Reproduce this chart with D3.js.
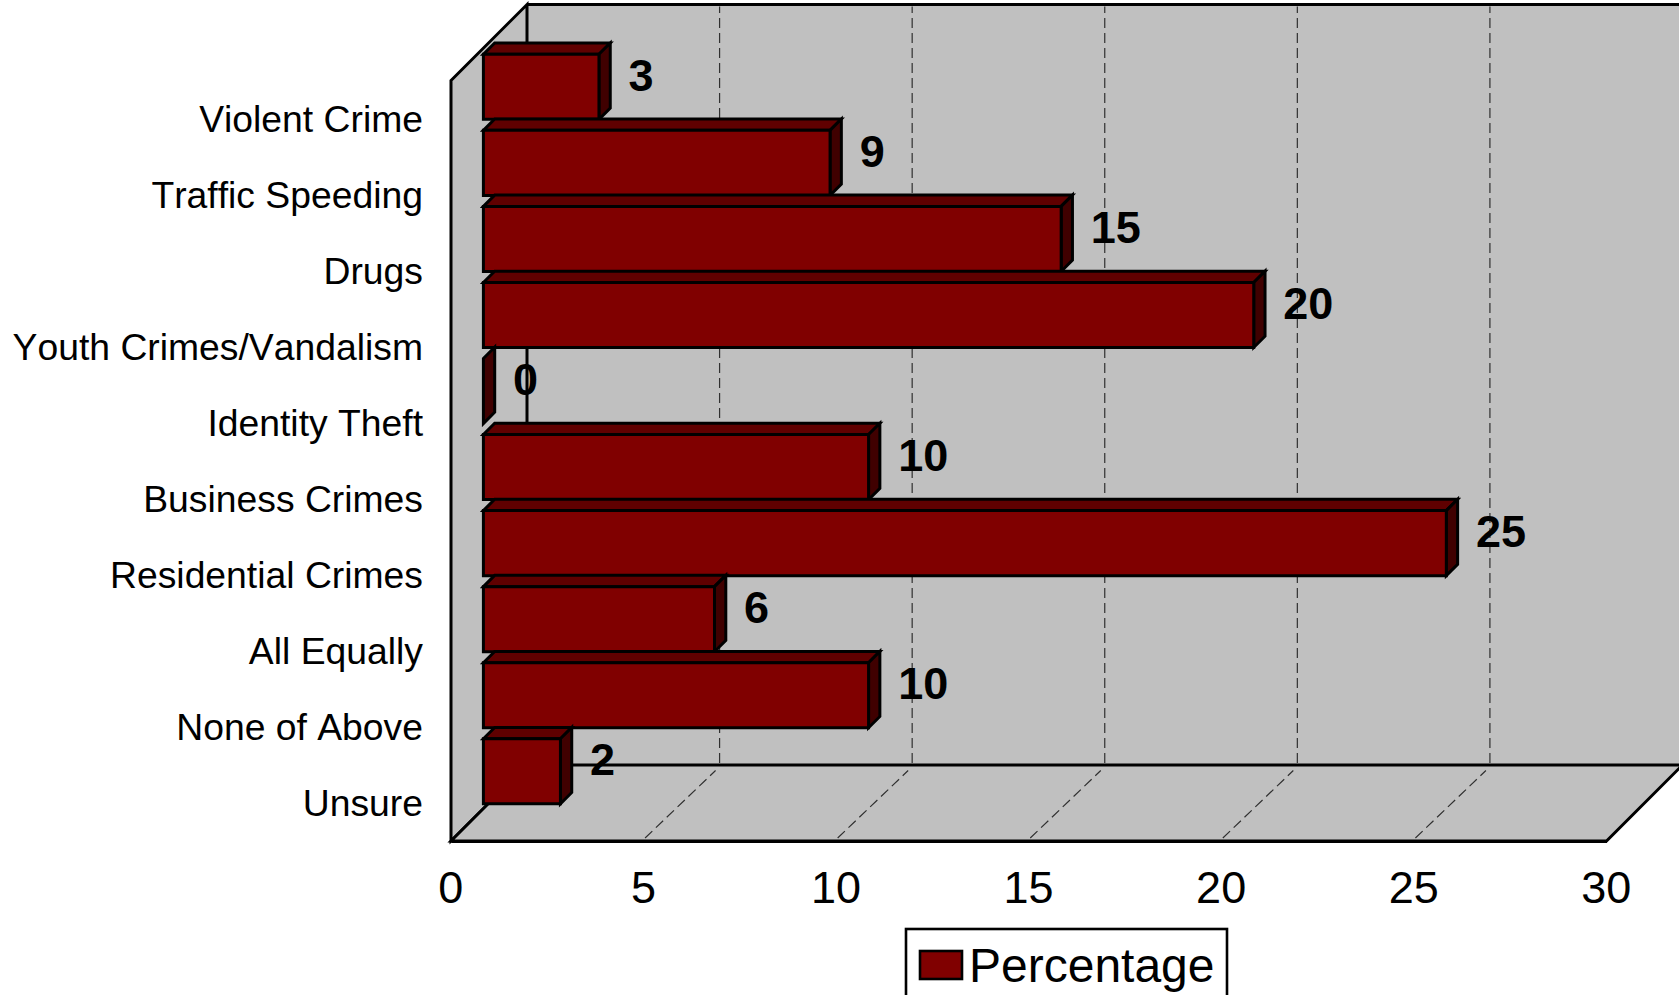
<!DOCTYPE html>
<html><head><meta charset="utf-8">
<style>html,body{margin:0;padding:0;background:#fff;overflow:hidden}svg{display:block}text{font-family:"Liberation Sans",Arial,sans-serif;fill:#000}</style>
<script src="https://cdn.jsdelivr.net/npm/d3@7"></script></head><body>
<script>
const categories=["Violent Crime","Traffic Speeding","Drugs","Youth Crimes/Vandalism","Identity Theft","Business Crimes","Residential Crimes","All Equally","None of Above","Unsure"];
const values=[3,9,15,20,0,10,25,6,10,2];
const xTicks=[0,5,10,15,20,25,30];
const seriesName="Percentage";
const W=1679,H=995;
const svg=d3.select("body").append("svg").attr("width",W).attr("height",H);
const x=d3.scaleLinear().domain([0,30]).range([451,1606.5]);
const depth=76, barOff=32.4, barDepth=11.3;
const wallTop=80.5, floorY=841;
const y=d3.scaleBand().domain(categories).range([wallTop-32+0.3,floorY-32+0.3]).paddingInner(0.145).paddingOuter(0.0725);
const poly=(g,pts,fill,sw=3)=>g.append("polygon").attr("points",pts.map(p=>p.join(",")).join(" ")).attr("fill",fill).attr("stroke","#000").attr("stroke-width",sw).attr("stroke-linejoin","miter");
const x0=x(0),x30=x(30);
const wall=svg.append("g");
wall.append("polygon").attr("points",[[x0+depth,wallTop-depth],[x30+depth,wallTop-depth],[x30+depth,floorY-depth],[x0+depth,floorY-depth]].map(p=>p.join(",")).join(" ")).attr("fill","#C0C0C0");
poly(wall,[[x0,wallTop],[x0+depth,wallTop-depth],[x0+depth,floorY-depth],[x0,floorY]],"#C0C0C0");
poly(wall,[[x0,floorY],[x0+depth,floorY-depth],[x30+depth,floorY-depth],[x30,floorY]],"#C0C0C0");
wall.append("line").attr("x1",x0+depth).attr("x2",x30+depth).attr("y1",wallTop-depth).attr("y2",wallTop-depth).attr("stroke","#000").attr("stroke-width",3);
const grid=svg.append("g").attr("stroke","#303030").attr("stroke-width",1.2);
xTicks.slice(1,-1).forEach(t=>{
  grid.append("line").attr("x1",x(t)+depth).attr("x2",x(t)+depth).attr("y1",floorY-depth-2).attr("y2",wallTop-depth+2).attr("stroke-dasharray","10,5");
  grid.append("line").attr("x1",x(t)+1.5).attr("x2",x(t)+depth-4).attr("y1",floorY-3).attr("y2",floorY-depth+5.5).attr("stroke-dasharray","10,5");
});
const bars=svg.append("g");
const bx=v=>x(v)+barOff;
const h=y.bandwidth();
categories.forEach((c,i)=>{
  const v=values[i],t=y(c),l=bx(0),r=bx(v),d=barDepth;
  if(v>0)poly(bars,[[l,t],[l+d,t-d],[r+d,t-d],[r,t]],"#600000",3);
  poly(bars,[[r,t],[r+d,t-d],[r+d,t+h-d],[r,t+h]],"#400000",3);
  if(v>0)poly(bars,[[l,t],[r,t],[r,t+h],[l,t+h]],"#800000",3);
});
const labels=svg.append("g");
categories.forEach((c,i)=>{
  labels.append("text").attr("x",bx(values[i])+barDepth+18.3).attr("y",y(c)+h/2-12.5).attr("dy","0.36em").attr("text-anchor","start")
   .attr("font-size",45).attr("font-weight","bold").text(values[i]);
  labels.append("text").attr("x",423).attr("y",y(c)+h/2+31.5).attr("dy","0.36em").attr("text-anchor","end").attr("font-size",37.3).style("font-kerning","none").text(c);
});
const ax=svg.append("g").attr("transform",`translate(0,${floorY})`).call(d3.axisBottom(x).tickValues(xTicks).tickSize(0).tickPadding(30));
ax.select(".domain").attr("stroke","#000").attr("stroke-width",3);
ax.selectAll("text").attr("font-size",45).attr("font-family","Liberation Sans").attr("dx",-0.7);
const lg=svg.append("g");
lg.append("rect").attr("x",906).attr("y",929).attr("width",321).attr("height",80).attr("fill","#fff").attr("stroke","#000").attr("stroke-width",2.6);
lg.append("rect").attr("x",920).attr("y",951).attr("width",42).attr("height",28).attr("fill","#800000").attr("stroke","#000").attr("stroke-width",2.6);
lg.append("text").attr("x",969).attr("y",965).attr("dy","0.36em").attr("font-size",48).text(seriesName);
</script></body></html>
